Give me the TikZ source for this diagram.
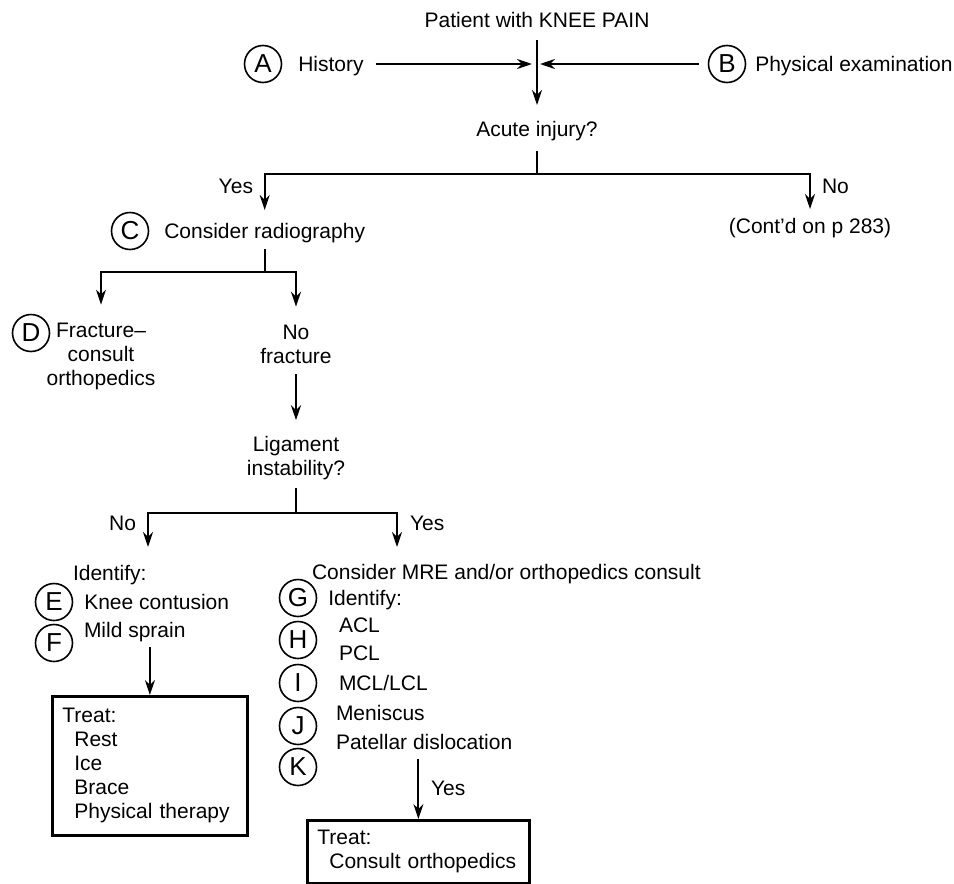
\documentclass[tikz,border=0pt]{standalone}
\usepackage{fontspec}
\setmainfont{Liberation Sans}
\usetikzlibrary{arrows.meta}
\usetikzlibrary{positioning}

\begin{document}
\begin{tikzpicture}[x=0.5pt,y=-0.5pt,>={Stealth[length=7.5pt,width=5pt]},
	line width=1pt,font=\fontsize{10.5}{12}\selectfont,
	letter node/.style={circle,draw,line width=0.8pt,minimum size=18.5pt,inner sep=0pt,
		font=\fontsize{13}{13}\selectfont},
	txt/.style={inner sep=0pt,text height=7.5pt,text depth=0pt},
	multi/.style={inner sep=0pt,align=center},
	treat box/.style={draw,line width=1.4pt,anchor=north west,align=left,
		inner xsep=5pt,inner ysep=0pt}]

	\useasboundingbox (0,0) rectangle (954,884);

	\node[txt] (title) at (537,20) {Patient with KNEE PAIN};
	\node[letter node] (circA) at (263,64) {A};
	\node[txt,right=7.5pt of circA] (hist) {History};
	\node[letter node] (circB) at (727,64) {B};
	\node[txt,right=4pt of circB] (phys) {Physical examination};
	\coordinate (join) at (537,64);
	\node[txt] (acute) at (537,129) {Acute injury?};
	\coordinate (fork1) at (537,174);

	\node[letter node] (circC) at (130,231) {C};
	\node[txt,right=7pt of circC] (radio) {Consider radiography};
	\node[txt] (contd) at (810,226) {(Cont'd on p 283)};
	\node[txt,anchor=east] (yes1) at (254,186) {Yes};
	\node[txt,anchor=west] (no1) at (821,186) {No};
	\coordinate (fork2) at (radio |- 0,272);

	\node[letter node] (circD) at (31,333) {D};
	\node[multi] (fract) at (101,356) {Fracture--\\consult\\orthopedics};
	\node[multi] (nofract) at (296,344) {No\\fracture};
	\node[multi] (ligament) at (296,458) {Ligament\\instability?};
	\coordinate (fork3) at (296,513);
	\coordinate (noEnd) at (148,547);
	\coordinate (yesEnd) at (397,547);
	\node[txt,anchor=east] (no2) at (137,523) {No};
	\node[txt,anchor=west] (yes2) at (409,523) {Yes};

	\node[txt,anchor=west] (identL) at (72,573) {Identify:};
	\node[letter node] (circE) at (54,602) {E};
	\node[txt,right=5pt of circE] (contusion) {Knee contusion};
	\node[letter node] (circF) at (54,643) {F};
	\node[txt,anchor=west] (sprain) at (83,630) {Mild sprain};
	\node[treat box,text width=87.5pt,minimum height=69.5pt] (treatL) at (51,695)
		{Treat:\\\hspace*{6pt}Rest\\\hspace*{6pt}Ice\\\hspace*{6pt}Brace\\\hspace*{6pt}Physical therapy};

	\node[txt,anchor=west] (mre) at (311,572) {Consider MRE and/or orthopedics consult};
	\node[letter node] (circG) at (298,598) {G};
	\node[txt,right=5pt of circG] (identR) {Identify:};
	\node[letter node] (circH) at (298,640) {H};
	\node[letter node] (circI) at (298,683) {I};
	\node[letter node] (circJ) at (298,726) {J};
	\node[letter node] (circK) at (298,767) {K};
	\node[txt,anchor=west] (acl) at (338,625) {ACL};
	\node[txt,anchor=west] (pcl) at (338,653) {PCL};
	\node[txt,anchor=west] (mcl) at (338,683) {MCL/LCL};
	\node[txt,anchor=west] (menisc) at (335,713) {Meniscus};
	\node[txt,anchor=west] (patellar) at (335,742) {Patellar dislocation};
	\node[txt,anchor=west] (yes3) at (430,788) {Yes};
	\node[treat box,text width=101pt,minimum height=31.5pt] (treatR) at (306,819)
		{Treat:\\\hspace*{6pt}Consult orthopedics};

	\draw[->,shorten <=5.75pt,shorten >=7.75pt] (title) -- (acute);
	\draw[->,shorten <=5.5pt,shorten >=2.5pt] (hist) -- (join);
	\draw[->,shorten <=4.5pt,shorten >=1.5pt] (circB) -- (join);
	\draw[shorten <=6.75pt] (acute) -- (fork1);
	\draw[->,shorten >=6.25pt] (fork1) -| (radio);
	\draw[->,shorten >=4.25pt] (fork1) -| (contd);
	\draw[shorten <=4.75pt] (radio) -- (fork2);
	\draw[->,shorten >=8.5pt] (fork2) -| (fract);
	\draw[->,shorten >=8.5pt] (fork2) -| (nofract);
	\draw[->,shorten <=4.75pt,shorten >=7.5pt] (nofract) -- (ligament);
	\draw[shorten <=3.5pt] (ligament) -- (fork3);
	\draw[->] (fork3) -| (noEnd);
	\draw[->] (fork3) -| (yesEnd);
	\draw[->,shorten <=4pt] (sprain.south -| treatL.north) -- (treatL);
	\draw[->,shorten <=4.25pt] (patellar.south -| treatR.north) -- (treatR);
\end{tikzpicture}
\end{document}
